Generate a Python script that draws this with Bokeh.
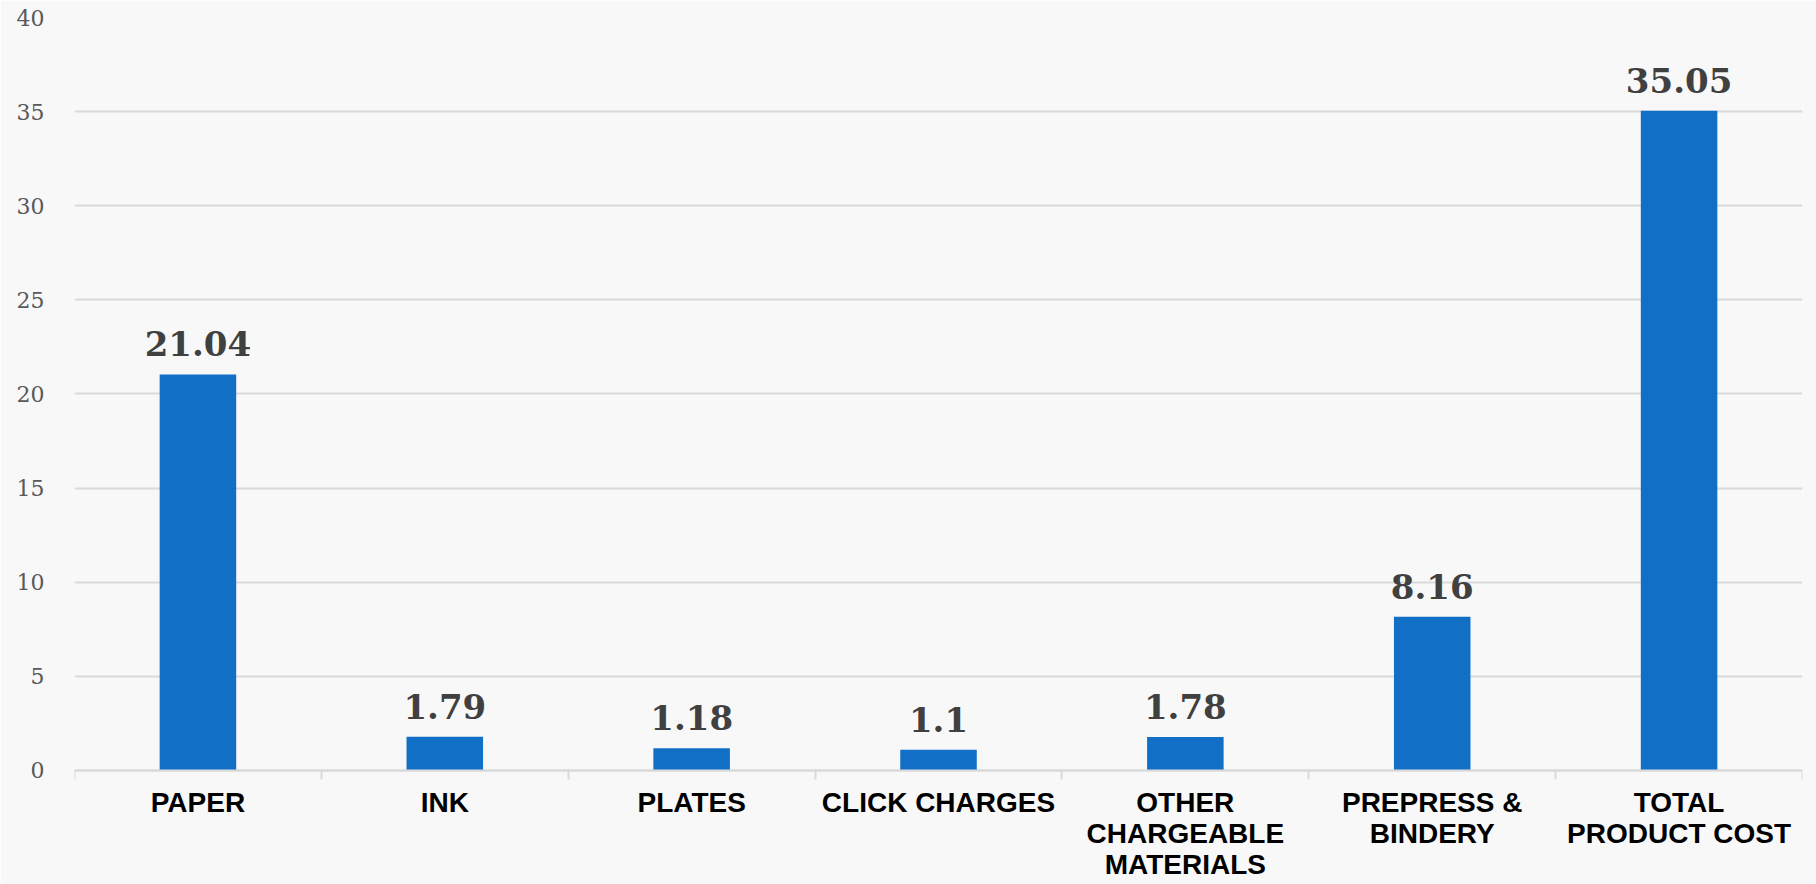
from bokeh.plotting import figure
from bokeh.models import Range1d, FixedTicker, ColumnDataSource
from bokeh.embed import file_html
from bokeh.resources import INLINE
from bokeh.core.properties import value

categories = ["PAPER", "INK", "PLATES", "CLICK CHARGES",
              "OTHER\nCHARGEABLE\nMATERIALS", "PREPRESS &\nBINDERY",
              "TOTAL\nPRODUCT COST"]
costs = [21.04, 1.79, 1.18, 1.1, 1.78, 8.16, 35.05]
cost_labels = ["21.04", "1.79", "1.18", "1.1", "1.78", "8.16", "35.05"]
y_ticks = [0, 5, 10, 15, 20, 25, 30, 35, 40]

n = len(categories)
centers = [i + 0.5 for i in range(n)]
bounds = [i for i in range(n + 1)]

src = ColumnDataSource(dict(x=centers, top=costs, lab=cost_labels))

BG = "#f8f8f8"
p = figure(width=1816, height=884, output_backend="svg", toolbar_location=None,
           x_range=Range1d(0, n), y_range=Range1d(-6.06, 40),
           min_border_left=74, min_border_right=14, min_border_top=17,
           min_border_bottom=0)
p.background_fill_color = BG
p.border_fill_color = BG
p.outline_line_color = None

p.vbar(x="x", top="top", bottom=0, width=0.31, source=src,
       fill_color="#116FC6", line_color=None)

p.text(x="x", y="top", text="lab", source=src, text_align="center",
       text_baseline="bottom", y_offset=-18,
       text_font=value("DejaVu Serif"), text_font_style="bold",
       text_font_size="34px", text_color="#404040")

# y axis
p.yaxis.ticker = FixedTicker(ticks=y_ticks)
p.yaxis.axis_line_color = None
p.yaxis.major_tick_line_color = None
p.yaxis.minor_tick_line_color = None
p.yaxis.major_label_standoff = 24
p.yaxis.major_label_text_font = "DejaVu Serif"
p.yaxis.major_label_text_font_size = "22px"
p.yaxis.major_label_text_color = "#595959"

p.ygrid.ticker = FixedTicker(ticks=y_ticks)
p.ygrid.grid_line_color = "#d9d9d9"
p.ygrid.grid_line_width = 2
p.xgrid.grid_line_color = None

# x axis, pinned at zero inside the frame
p.xaxis.fixed_location = 0
p.xaxis.ticker = FixedTicker(ticks=centers, minor_ticks=bounds)
p.xaxis.major_label_overrides = {c: lab for c, lab in zip(centers, categories)}
p.xaxis.axis_line_color = "#d9d9d9"
p.xaxis.axis_line_width = 2
p.xaxis.major_tick_line_color = None
p.xaxis.major_tick_out = 0
p.xaxis.major_tick_in = 0
p.xaxis.minor_tick_line_color = "#d9d9d9"
p.xaxis.minor_tick_line_width = 2
p.xaxis.minor_tick_out = 9
p.xaxis.minor_tick_in = 0
p.xaxis.major_label_standoff = 8
p.xaxis.major_label_text_font = "Liberation Sans"
p.xaxis.major_label_text_font_style = "bold"
p.xaxis.major_label_text_font_size = "28px"
p.xaxis.major_label_text_color = "#000000"
p.xaxis.major_label_text_line_height = 1.0

open("out.html", "w").write(file_html(p, INLINE))
